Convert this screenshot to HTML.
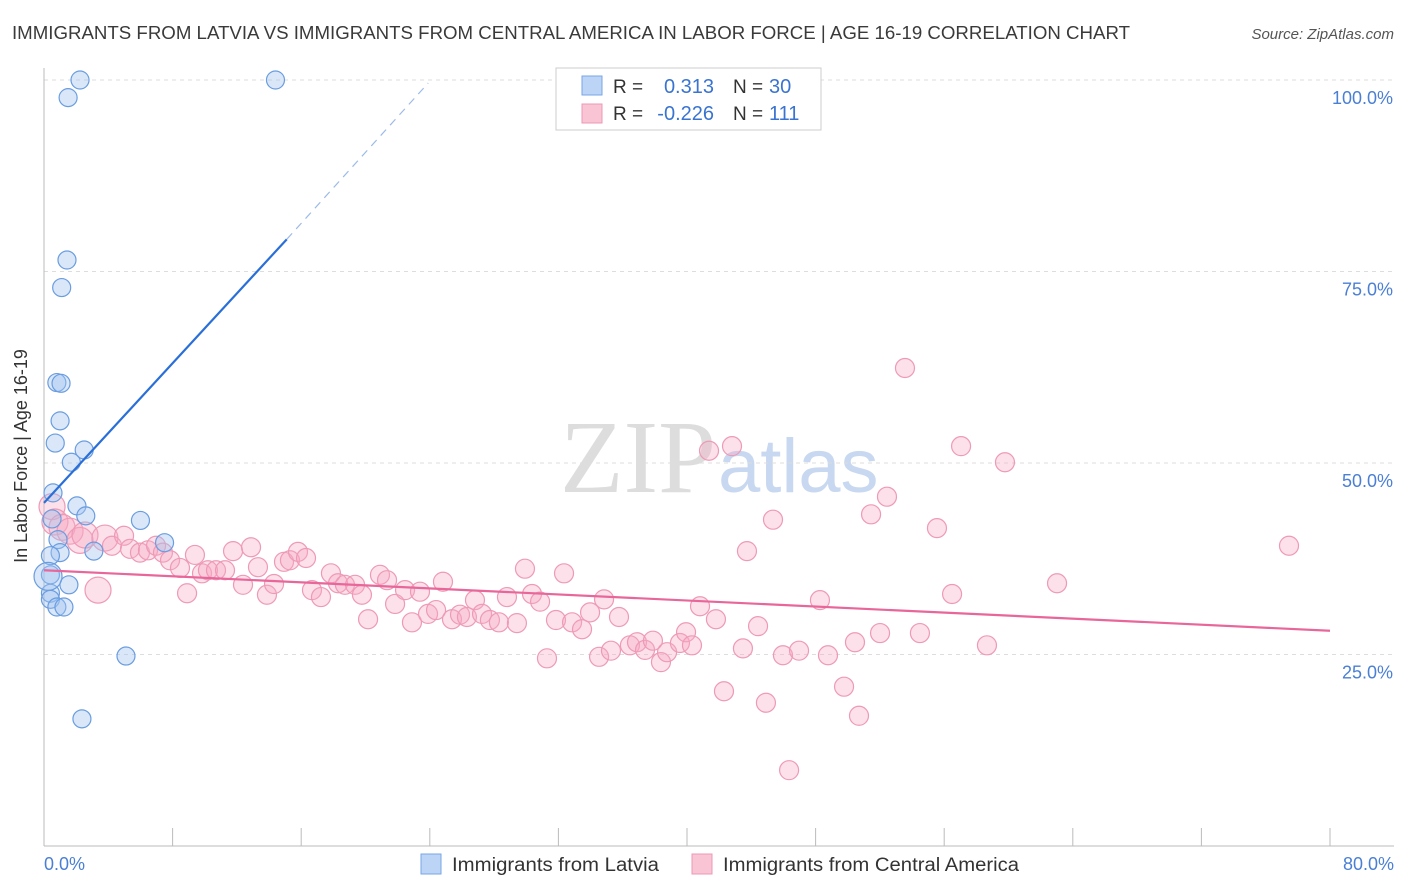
<!DOCTYPE html>
<html><head><meta charset="utf-8"><style>
body{margin:0;background:#fff;font-family:"Liberation Sans",sans-serif;}
#wrap{position:relative;width:1406px;height:892px;overflow:hidden;}
</style></head><body>
<div id="wrap">
<svg id="svg" width="1406" height="892" xmlns="http://www.w3.org/2000/svg">
<text x="12" y="39" font-size="18" fill="#3a3a3a" textLength="1118" lengthAdjust="spacingAndGlyphs">IMMIGRANTS FROM LATVIA VS IMMIGRANTS FROM CENTRAL AMERICA IN LABOR FORCE | AGE 16-19 CORRELATION CHART</text>
<text x="1394" y="39" font-size="15" fill="#555" text-anchor="end" font-style="italic">Source: ZipAtlas.com</text>
<text x="716" y="492" font-size="104" fill="#ddd" text-anchor="end" font-family="Liberation Serif">ZIP</text>
<text x="718" y="492" font-size="76" fill="#c8d8f0">atlas</text>
<g id="grid"></g><g id="axes"></g><g id="pts"></g><g id="trend"></g>
<text x="27" y="456" font-size="18" fill="#333" text-anchor="middle" transform="rotate(-90 27 456)">In Labor Force | Age 16-19</text>
<text x="44" y="870" font-size="18" fill="#4a7fd4">0.0%</text>
<text x="1394" y="870" font-size="18" fill="#4a7fd4" text-anchor="end">80.0%</text>
<g>
<rect x="556" y="68" width="265" height="62" fill="#fff" stroke="#ccc"/>
<rect x="582" y="76" width="20" height="19" fill="#bcd4f6" stroke="#7aa6e6"/>
<rect x="582" y="104" width="20" height="19" fill="#f9c4d4" stroke="#ec98b4"/>
<text x="613" y="93" font-size="19" fill="#333">R =</text><text x="714" y="93" font-size="20" fill="#3a74d0" text-anchor="end">0.313</text>
<text x="733" y="93" font-size="19" fill="#333">N =</text><text x="769" y="93" font-size="20" fill="#3a74d0">30</text>
<text x="613" y="120" font-size="19" fill="#333">R =</text><text x="714" y="120" font-size="20" fill="#3a74d0" text-anchor="end">-0.226</text>
<text x="733" y="120" font-size="19" fill="#333">N =</text><text x="769" y="120" font-size="20" fill="#3a74d0">111</text>
</g>
<g>
<rect x="421" y="854" width="20" height="20" fill="#bcd4f6" stroke="#7aa6e6"/>
<text x="452" y="871" font-size="19" fill="#333" textLength="207" lengthAdjust="spacingAndGlyphs">Immigrants from Latvia</text>
<rect x="692" y="854" width="20" height="20" fill="#f9c4d4" stroke="#ec98b4"/>
<text x="723" y="871" font-size="19" fill="#333" textLength="296" lengthAdjust="spacingAndGlyphs">Immigrants from Central America</text>
</g>
</svg></div>
<script>
const yTicks=[25,50,75,100];
const yTickLabels=["25.0%","50.0%","75.0%","100.0%"];
const xTicks=[0,8,16,24,32,40,48,56,64,72,80];
const latviaX=[2.24,1.5,14.4,1.43,1.1,0.8,1.06,1.0,0.7,2.5,1.7,0.56,2.05,2.6,6.0,0.5,0.87,7.5,3.1,1.0,0.4,0.4,1.55,0.4,0.4,0.8,1.24,5.1,2.36,0.25];
const latviaY=[100,97.7,100,76.5,72.9,60.5,60.4,55.5,52.6,51.7,50.1,46.1,44.4,43.1,42.5,42.7,40,39.6,38.5,38.3,37.9,35.4,34.1,33,32.2,31.2,31.2,24.8,16.6,35.2];
const camPx=[52,55,62,70,80,85,98,105,112,124,130,140,148,156,163,170,180,187,195,202,208,216,225,233,243,251,258,267,274,284,290,298,306,312,321,331,338,345,355,362,368,380,387,395,405,412,420,428,436,443,452,460,467,475,482,490,499,507,517,525,532,540,547,556,564,572,582,590,599,604,611,619,630,637,645,653,661,667,680,686,692,700,709,716,724,732,743,747,758,766,773,783,789,799,820,828,844,855,859,871,880,887,905,920,937,952,961,987,1005,1057,1289];
const camPy=[507,522,527,531,540,535,590,538,546,536,549,553,550,546,553,560,568,593,555,573,570,570,570,551,585,547,567,595,584,562,560,552,558,590,597,573,583,585,585,595,619,575,580,604,590,622,592,614,610,582,619,615,617,600,614,620,622,597,623,569,594,602,658,620,573,622,629,612,657,599,651,617,645,642,650,641,662,652,643,632,645,606,451,619,691,446,648,551,626,703,520,655,770,651,600,655,687,642,716,514,633,497,368,633,528,594,446,645,462,583,546];
const camX=camPx.map(p=>+((p-44)/16.075).toFixed(2));
const camY=camPy.map(p=>+((846-p)/7.66).toFixed(1));
const latviaTrend=[[0.0,44.8],[15.1,79.2]];
const latviaDash=[[15.1,79.2],[23.9,99.6]];
const camTrend=[[0,36.0],[80,28.1]];
const X=v=>44+v*16.075, Y=v=>846-v*7.66;
const NS="http://www.w3.org/2000/svg";
function mk(t,a,p){const e=document.createElementNS(NS,t);for(const k in a)e.setAttribute(k,a[k]);p.appendChild(e);return e;}
const grid=document.getElementById('grid'),axes=document.getElementById('axes'),pts=document.getElementById('pts'),tr=document.getElementById('trend');
yTicks.forEach((t,i)=>{const g=mk('line',{x1:44,x2:1394,y1:Y(t),y2:Y(t),stroke:'#ddd','stroke-dasharray':'4 4'},grid);


const l=mk('text',{x:1393,y:Y(t)+24,'font-size':18,fill:'#4a7fd4','text-anchor':'end'},axes);l.textContent=yTickLabels[i];

});
const ax=mk('line',{x1:44,x2:1394,y1:846,y2:846,stroke:'#bbb'},axes);


const ay=mk('line',{x1:44,x2:44,y1:68,y2:846,stroke:'#bbb'},axes);


xTicks.forEach(t=>{const e=mk('line',{x1:X(t),x2:X(t),y1:828,y2:846,stroke:'#bbb'},axes);

});
camX.forEach((x,i)=>{const r=i<8?13:(i==6?12:9.5);const c=mk('circle',{cx:X(x),cy:Y(camY[i]),r:r,fill:'rgba(246,170,195,0.35)',stroke:'#ee9ab6','stroke-width':1.2},pts);

});
latviaX.forEach((x,i)=>{const r=i==29?14:9;const c=mk('circle',{cx:X(x),cy:Y(latviaY[i]),r:r,fill:'rgba(160,195,240,0.4)',stroke:'#6a9de0','stroke-width':1.2},pts);

});
const l1=mk('line',{x1:X(latviaTrend[0][0]),y1:Y(latviaTrend[0][1]),x2:X(latviaTrend[1][0]),y2:Y(latviaTrend[1][1]),stroke:'#2a6fd8','stroke-width':2.2},tr);


const l2=mk('line',{x1:X(latviaDash[0][0]),y1:Y(latviaDash[0][1]),x2:X(latviaDash[1][0]),y2:Y(latviaDash[1][1]),stroke:'#9cbbe8','stroke-width':1.2,'stroke-dasharray':'8 6'},tr);


const l3=mk('line',{x1:X(camTrend[0][0]),y1:Y(camTrend[0][1]),x2:X(camTrend[1][0]),y2:Y(camTrend[1][1]),stroke:'#e8669a','stroke-width':2.2},tr);


</script>
</body></html>
